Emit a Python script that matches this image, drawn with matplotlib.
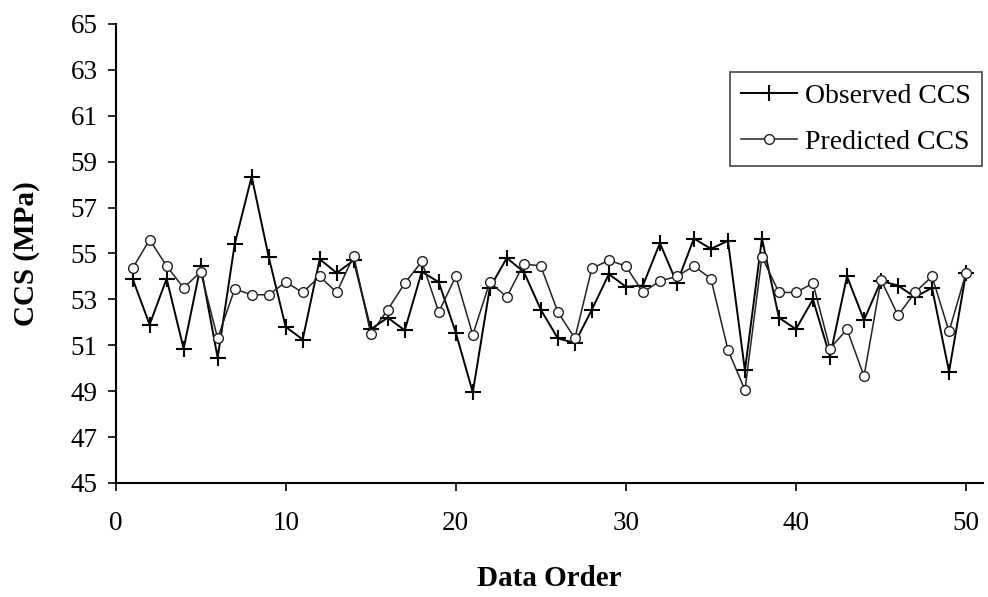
import numpy as np
from matplotlib import pyplot as plt

plt.rcParams.update({
  "font.family": 'serif',
  "font.serif": ['Liberation Serif', 'DejaVu Serif'],
})

order = np.arange(1, 51)

observed = [53.9, 51.9, 53.9, 50.85, 54.45, 50.45, 55.4, 58.35, 54.85, 51.8,
            51.25, 54.75, 54.15, 54.7, 51.7, 52.2, 51.65, 54.2, 53.75, 51.55,
            48.95, 53.5, 54.8, 54.2, 52.55, 51.3, 51.1, 52.55, 54.1, 53.55,
            53.6, 55.45, 53.7, 55.65, 55.2, 55.55, 49.9, 55.65, 52.2, 51.7,
            53.0, 50.5, 54.0, 52.1, 53.8, 53.6, 53.1, 53.5, 49.85, 54.15]

predicted = [54.35, 55.6, 54.45, 53.5, 54.2, 51.3, 53.45, 53.2, 53.2, 53.75,
             53.3, 54.0, 53.3, 54.9, 51.5, 52.55, 53.7, 54.65, 52.45, 54.0,
             51.45, 53.75, 53.1, 54.55, 54.45, 52.45, 51.3, 54.35, 54.7, 54.45,
             53.3, 53.8, 54.0, 54.45, 53.9, 50.8, 49.05, 54.85, 53.3, 53.3,
             53.7, 50.85, 51.7, 49.65, 53.85, 52.3, 53.3, 54.0, 51.6, 54.15]

yticks = np.arange(45, 66, 2)
xticks = np.arange(0, 51, 10)

fig = plt.figure(figsize=(9.88, 5.97), dpi=100)
ax = fig.add_axes([0.117, 0.191, 0.878, 0.769])

ax.plot(order, observed, color='black', lw=1.4, marker='+', ms=11, mew=1.5,
        label='Observed CCS')
ax.plot(order, predicted, color='#222222', lw=1.1, marker='o', ms=7,
        mfc='white', mec='#222222', mew=1.0, label='Predicted CCS')

ax.set_xlim(0, 51)
ax.set_ylim(45, 65)
ax.set_xticks(xticks)
ax.set_yticks(yticks)
ax.tick_params(labelsize=19.5, length=6, width=1.2, direction='out')
ax.tick_params(axis='x', pad=14)
ax.tick_params(axis='y', pad=7)

for s in ['top', 'right']:
    ax.spines[s].set_visible(False)
for s in ['left', 'bottom']:
    ax.spines[s].set_linewidth(1.5)

ax.set_xlabel('Data Order', fontsize=21, fontweight='bold', va='center')
ax.set_ylabel('CCS (MPa)', fontsize=21, fontweight='bold', va='center')
ax.xaxis.set_label_coords(0.5, -0.207)
ax.yaxis.set_label_coords(-0.103, 0.5)

leg = ax.legend(loc='upper right', bbox_to_anchor=(0.994, 0.879),
                bbox_transform=fig.transFigure, borderaxespad=0, fontsize=20,
                handlelength=2.0, handletextpad=0.3, borderpad=0.4,
                labelspacing=0.75, fancybox=False, framealpha=1,
                edgecolor='#444444')
leg.get_frame().set_linewidth(1.2)

fig.savefig('out.png', dpi=100)
